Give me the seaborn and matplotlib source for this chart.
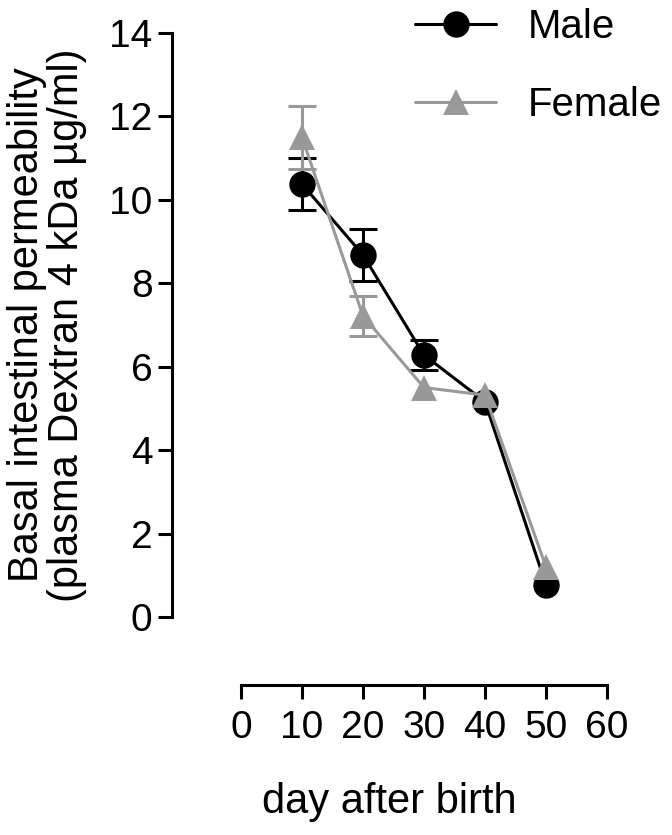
import matplotlib
matplotlib.use("Agg")
import matplotlib.pyplot as plt
import seaborn as sns
import pandas as pd
import numpy as np
from matplotlib.lines import Line2D

days = [10, 20, 30, 40, 50]
male_mean = [10.38, 8.68, 6.28, 5.16, 0.77]
male_sem = [0.62, 0.62, 0.35, 0.0, 0.0]
female_mean = [11.50, 7.22, 5.50, 5.32, 1.20]
female_sem = [0.75, 0.48, 0.0, 0.0, 0.0]
sexes = ["Male", "Female"]
colors = {"Male": "#000000", "Female": "#999999"}
x_ticks = [0, 10, 20, 30, 40, 50, 60]
y_ticks = [0, 2, 4, 6, 8, 10, 12, 14]

df = pd.DataFrame({
    "day": days * 2,
    "value": male_mean + female_mean,
    "sem": male_sem + female_sem,
    "sex": ["Male"] * 5 + ["Female"] * 5,
})

sns.set_theme(style="ticks")
plt.rcParams["font.family"] = ["Liberation Sans", "DejaVu Sans"]
plt.rcParams["text.color"] = "black"

fig = plt.figure(figsize=(6.72, 8.35), dpi=100)
ax = fig.add_axes([172 / 672, 1 - 617 / 835, (607 - 172) / 672, (617 - 33) / 835])

lw = 2.2
sns.lineplot(data=df, x="day", y="value", hue="sex", style="sex",
             hue_order=sexes, style_order=sexes, palette=colors,
             markers={"Male": "o", "Female": "^"}, dashes=False,
             markersize=19, markeredgewidth=0, linewidth=lw,
             errorbar=None, ax=ax, legend=False, zorder=3)

# error bars too small to show past the markers are left out
for s, z in zip(sexes, [2, 2.5]):
    sub = df[(df["sex"] == s) & (df["sem"] > 0)]
    ax.errorbar(sub["day"], sub["value"], yerr=sub["sem"], fmt="none",
                ecolor=colors[s], elinewidth=lw, capsize=10, capthick=lw, zorder=z)

ax.set_xlim(-11.3, 60)
ax.set_ylim(0, 14)
ax.set_xticks(x_ticks)
ax.set_yticks(y_ticks)
ax.tick_params(axis="both", labelsize=28, width=lw, length=10, color="black",
               labelcolor="black", direction="out")
ax.tick_params(axis="x", pad=8)
ax.tick_params(axis="y", pad=4)
for sp in ["top", "right"]:
    ax.spines[sp].set_visible(False)
ax.spines["left"].set_bounds(0, 14)
ax.spines["bottom"].set_bounds(0, 60)
ax.spines["bottom"].set_position(("outward", 49))
for sp in ["left", "bottom"]:
    ax.spines[sp].set_linewidth(lw)
    ax.spines[sp].set_color("black")

ax.set_xlabel("day after birth", fontsize=30, labelpad=26, color="black")
ax.set_ylabel("Basal intestinal permeability\n(plasma Dextran 4 kDa µg/ml)",
              fontsize=30, labelpad=16, color="black", linespacing=1.0)

handles = [Line2D([], [], color=colors["Male"], marker="o", markersize=19, lw=lw, markeredgewidth=0),
           Line2D([], [], color=colors["Female"], marker="^", markersize=19, lw=lw, markeredgewidth=0)]
leg = fig.legend(handles, sexes, loc="upper left", bbox_to_anchor=(0.612, 0.995),
                 frameon=False, fontsize=29, handlelength=2.0, handletextpad=0.8,
                 labelspacing=1.0, borderpad=0.1, borderaxespad=0)
for t in leg.get_texts():
    t.set_color("black")

fig.savefig("out.png", dpi=100)
